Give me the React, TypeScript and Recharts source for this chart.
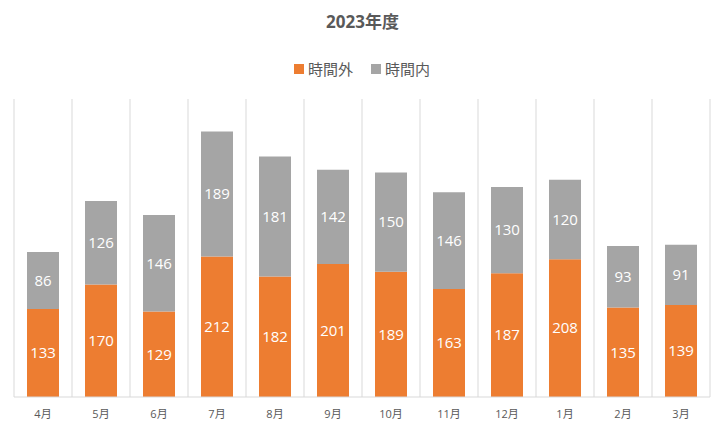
import React from 'react';
import { Bar, BarChart, CartesianGrid, LabelList, Legend, XAxis, YAxis } from 'recharts';

const months = ['4月', '5月', '6月', '7月', '8月', '9月', '10月', '11月', '12月', '1月', '2月', '3月'];
const overtime = [133, 170, 129, 212, 182, 201, 189, 163, 187, 208, 135, 139];
const regular = [86, 126, 146, 189, 181, 142, 150, 146, 130, 120, 93, 91];
const seriesOrder = ['時間外', '時間内'];

const FONT = "'Open Sans', 'Noto Sans CJK JP', sans-serif";

const data = months.map((month, i) => ({
    month,
    overtime: overtime[i],
    regular: regular[i],
}));

function LegendContent({ payload }: any) {
    const items = [...(payload || [])].sort(
        (a: any, b: any) => seriesOrder.indexOf(a.value) - seriesOrder.indexOf(b.value)
    );
    return (
        <div style={{ display: 'flex', justifyContent: 'center', gap: 18, fontFamily: FONT, fontSize: 15, color: '#595959' }}>
            {items.map((entry: any) => (
                <div key={entry.value} style={{ display: 'flex', alignItems: 'center', gap: 4 }}>
                    <span style={{ width: 10, height: 10, background: entry.color, display: 'inline-block' }} />
                    <span>{entry.value}</span>
                </div>
            ))}
        </div>
    );
}

export default function App() {
    return (
        <div style={{ position: 'absolute', left: 0, top: 0, width: 725, height: 435, background: '#fff', fontFamily: FONT }}>
            <div style={{ position: 'absolute', top: 8, width: '100%', textAlign: 'center', fontSize: 17, fontWeight: 700, color: '#595959' }}>
                2023年度
            </div>
            <BarChart width={725} height={435} data={data} margin={{ top: 78, right: 15, left: 14, bottom: 8 }}>
                <CartesianGrid
                    horizontal={false}
                    stroke="#d9d9d9"
                    verticalCoordinatesGenerator={({ offset }: any) =>
                        Array.from({ length: months.length + 1 }, (_, i) => offset.left + (i * offset.width) / months.length)
                    }
                />
                <XAxis
                    dataKey="month"
                    tickLine={false}
                    axisLine={{ stroke: '#d9d9d9' }}
                    tick={{ fill: '#595959', fontSize: 11 }}
                    tickMargin={7}
                />
                <YAxis hide domain={[0, 450]} />
                <Legend verticalAlign="top" content={<LegendContent />} wrapperStyle={{ top: 58 }} />
                <Bar dataKey="overtime" name="時間外" stackId="a" fill="#ED7D31" barSize={32} isAnimationActive={false}>
                    <LabelList dataKey="overtime" position="center" fill="#fff" fontSize={15} />
                </Bar>
                <Bar dataKey="regular" name="時間内" stackId="a" fill="#A5A5A5" barSize={32} isAnimationActive={false}>
                    <LabelList dataKey="regular" position="center" fill="#fff" fontSize={15} />
                </Bar>
            </BarChart>
        </div>
    );
}
